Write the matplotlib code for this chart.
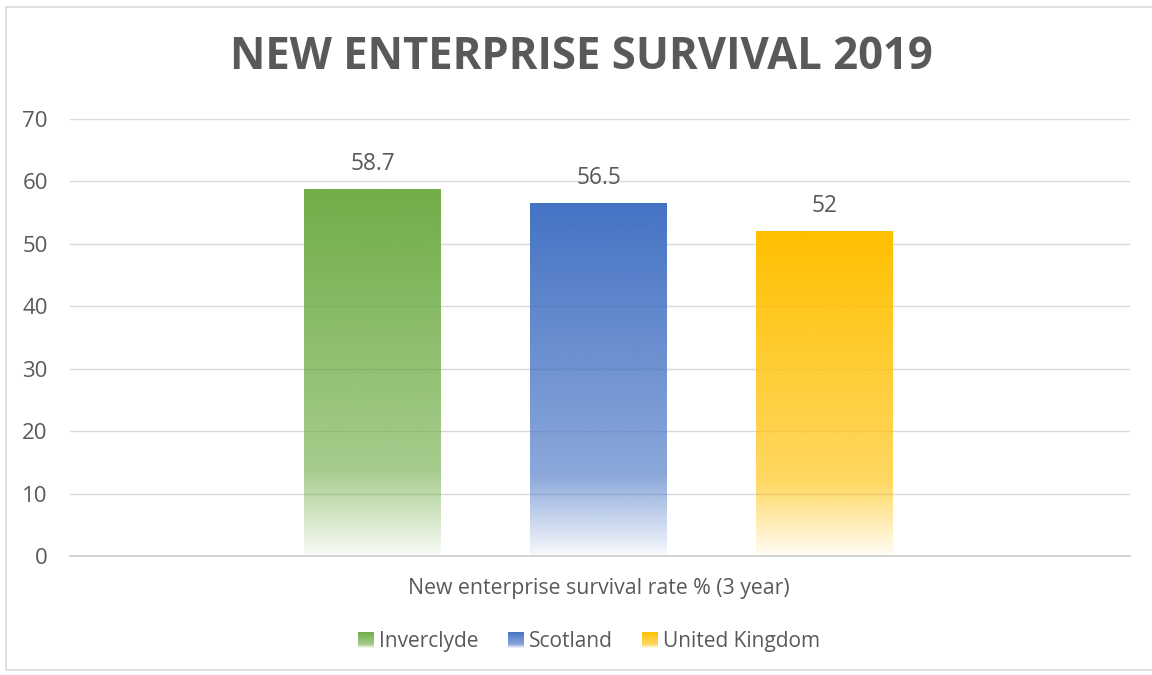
import numpy as np
import matplotlib
matplotlib.use("Agg")
import matplotlib.pyplot as plt
from matplotlib.patches import Rectangle
from matplotlib.legend_handler import HandlerBase
from matplotlib.colors import to_rgb

plt.rcParams['font.family'] = ['Open Sans', 'DejaVu Sans']

title = "NEW ENTERPRISE SURVIVAL 2019"
category = "New enterprise survival rate % (3 year)"
areas = ["Inverclyde", "Scotland", "United Kingdom"]
rates = [58.7, 56.5, 52]
rate_labels = ["58.7", "56.5", "52"]
colours = ["#70AD47", "#4472C4", "#FFC000"]

grey = "#595959"


def fade_alpha(t):
    # t = 0 at the bottom of the bar, 1 at the top
    return np.interp(t, [0.0, 0.23, 1.0], [0.04, 0.62, 1.0])


def gradient_image(colour, n=256):
    t = np.linspace(0, 1, n)[:, None]
    rgb = np.array(to_rgb(colour))
    img = np.ones((n, 1, 4))
    img[:, :, :3] = rgb
    img[:, :, 3] = fade_alpha(t)
    return img


class GradientHandler(HandlerBase):
    def __init__(self, colour, **kw):
        super().__init__(**kw)
        self.colour = colour

    def create_artists(self, legend, orig_handle, xdescent, ydescent,
                       width, height, fontsize, trans):
        side = height * 1.1
        x0 = xdescent + width - side
        y0 = ydescent + (height - side) / 2
        steps = 16
        artists = []
        for i in range(steps):
            t = (i + 0.5) / steps
            r = Rectangle((x0, y0 + side * i / steps), side, side / steps + 0.3,
                          facecolor=self.colour, alpha=float(fade_alpha(t)),
                          edgecolor="none", transform=trans)
            artists.append(r)
        return artists


fig = plt.figure(figsize=(11.52, 6.75), dpi=100)
ax = fig.add_axes([0.0608, 0.1763, 0.920, 0.6474])

# chart border
fig.patches.append(Rectangle((6 / 1152, 5 / 675), 1.2, 663 / 675, transform=fig.transFigure,
                             fill=False, edgecolor="#D9D9D9", linewidth=1.2))

x = np.arange(len(areas)) - 1
width = 0.606
handles = []
for xi, val, lab, col in zip(x, rates, rate_labels, colours):
    bar = ax.bar(xi, val, width=width, color="none", edgecolor="none", zorder=2)[0]
    ax.imshow(gradient_image(col), extent=[xi - width / 2, xi + width / 2, 0, val],
              origin="lower", aspect="auto", zorder=2, interpolation="bilinear")
    ax.text(xi, val + 2.1, lab, ha="center", va="bottom", fontsize=16.3, color=grey)
    handles.append(bar)

ax.set_xlim(-2.34, 2.35)
ax.set_ylim(0, 70)
ax.set_yticks(range(0, 71, 10))
ax.set_xticks([0])
ax.set_xticklabels([category])
ax.tick_params(axis="y", length=0, labelsize=16, labelcolor=grey, pad=16)
ax.tick_params(axis="x", length=0, labelsize=15.3, labelcolor=grey, pad=16)
ax.grid(axis="y", color="#D9D9D9", linewidth=1, zorder=0)
ax.set_axisbelow(True)
for side in ["top", "right", "left"]:
    ax.spines[side].set_visible(False)
ax.spines["bottom"].set_color("#D0D0D0")
ax.spines["bottom"].set_linewidth(1.3)

fig.text(0.505, 0.915, title, ha="center", va="center", fontsize=31.4,
         fontweight="bold", color=grey)

leg = fig.legend(handles, areas, loc="center", bbox_to_anchor=(0.5115, 0.049), ncol=3,
                 frameon=False, fontsize=15, handlelength=0.77, handletextpad=0.25,
                 columnspacing=1.4,
                 handler_map={h: GradientHandler(c) for h, c in zip(handles, colours)})
for t in leg.get_texts():
    t.set_color(grey)

fig.savefig("out.png", dpi=100, facecolor="white")
